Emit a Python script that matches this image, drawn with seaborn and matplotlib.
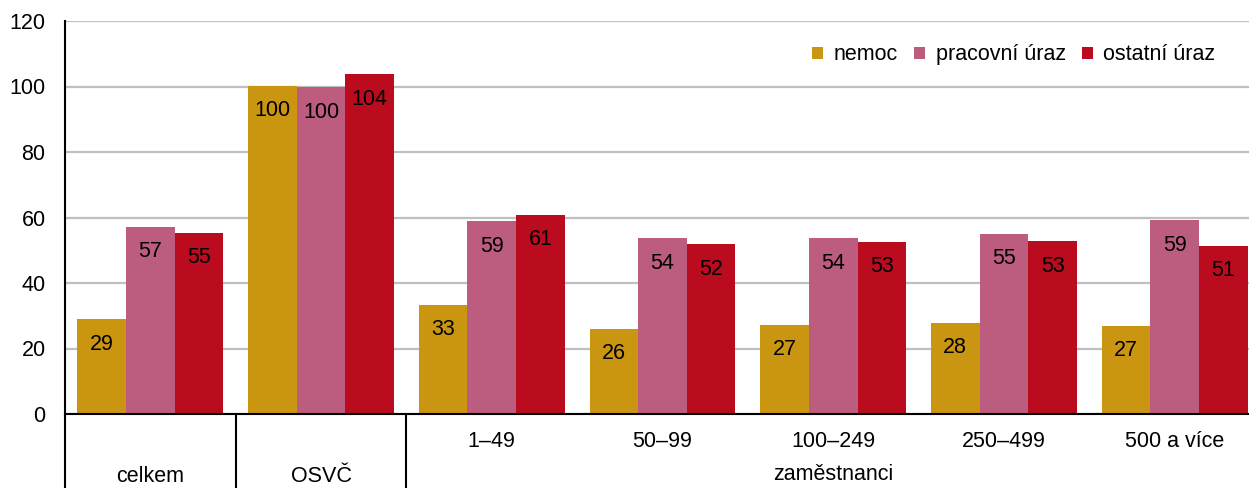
import numpy as np
import pandas as pd
import matplotlib.pyplot as plt
import seaborn as sns

categories = ["celkem", "OSVČ", "1–49", "50–99", "100–249", "250–499", "500 a více"]
series = ["nemoc", "pracovní úraz", "ostatní úraz"]
nemoc = [29.0, 100.2, 33.3, 26.0, 27.2, 27.9, 26.9]
pracovni_uraz = [57.2, 99.8, 58.9, 53.7, 53.6, 55.0, 59.2]
ostatni_uraz = [55.3, 103.8, 60.8, 51.9, 52.6, 52.8, 51.3]
colors = ["#CA9612", "#BC5C7E", "#BA0C1E"]

df = pd.DataFrame({
    "kategorie": categories * 3,
    "typ": np.repeat(series, len(categories)),
    "hodnota": nemoc + pracovni_uraz + ostatni_uraz,
})

sns.set_theme(style="white")
plt.rcParams["font.family"] = ["Liberation Sans", "DejaVu Sans"]
plt.rcParams["font.size"] = 15.5
plt.rcParams["text.color"] = "black"

fig = plt.figure(figsize=(12.49, 4.88), dpi=100)
# the plot area runs a little past the right edge of the picture
ax = fig.add_axes([65 / 1249, 74 / 488, 1195 / 1249, 393 / 488])

sns.barplot(data=df, x="kategorie", y="hodnota", hue="typ", palette=colors,
            width=0.855, saturation=1, linewidth=0, ax=ax)

ax.set_xlim(-0.5, len(categories) - 0.5)
ax.set_ylim(0, 120)
ax.set_yticks(range(0, 121, 20))
ax.yaxis.grid(True, color="#BFBFBF", lw=1.6)
ax.set_axisbelow(True)
ax.set_xlabel("")
ax.set_ylabel("")
for s in ["top", "right"]:
    ax.spines[s].set_visible(False)
for s in ["left", "bottom"]:
    ax.spines[s].set_color("black")
    ax.spines[s].set_linewidth(1.5)
ax.tick_params(axis="both", length=0, labelsize=15.5, colors="black")
ax.tick_params(axis="y", pad=14)
ax.tick_params(axis="x", pad=12)
ax.set_xticks(range(len(categories)))
ax.set_xticklabels([""] * 2 + categories[2:])

# lower row of the category axis
trans = ax.get_xaxis_transform()
for x in [-0.5, 0.5, 1.5]:
    ax.plot([x, x], [0, -0.2], transform=trans, color="black", lw=1.5, clip_on=False)
ax.text(0, -0.158, categories[0], transform=trans, ha="center", va="center", fontsize=15.5)
ax.text(1, -0.158, categories[1], transform=trans, ha="center", va="center", fontsize=15.5)
ax.text(4, -0.155, "zaměstnanci", transform=trans, ha="center", va="center", fontsize=15.5)

for cont in ax.containers:
    texts = ax.bar_label(cont, fmt="%.0f", padding=-18, fontsize=15.5, color="black")
    for t in texts:
        t.set_va("center")

ax.legend(loc="upper right", bbox_to_anchor=(0.979, 0.99), ncol=3, frameon=False,
          handlelength=0.5, handleheight=0.5, handletextpad=0.5, columnspacing=0.75,
          fontsize=15.5)

plt.savefig("out.png", dpi=100)
